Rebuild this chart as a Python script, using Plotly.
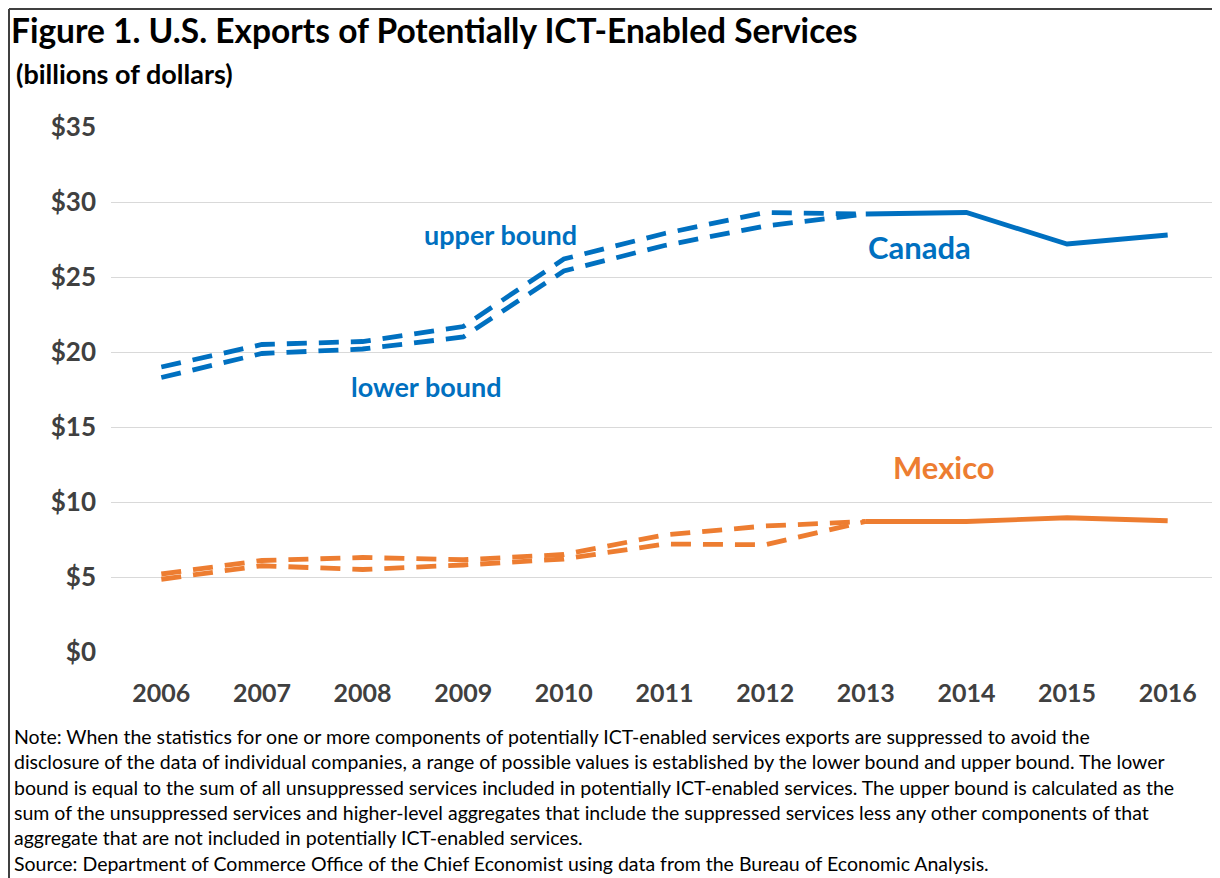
import plotly.graph_objects as go

years = ["2006", "2007", "2008", "2009", "2010", "2011", "2012", "2013", "2014", "2015", "2016"]
bound_years = years[:8]
solid_years = years[7:]

canada_upper = [19.0, 20.5, 20.7, 21.7, 26.2, 27.9, 29.3, 29.2]
canada_lower = [18.3, 19.9, 20.2, 21.0, 25.4, 27.1, 28.4, 29.2]
canada_solid = [29.2, 29.3, 27.2, 27.8]

mexico_upper = [5.2, 6.1, 6.3, 6.15, 6.5, 7.8, 8.4, 8.7]
mexico_lower = [4.85, 5.75, 5.5, 5.8, 6.2, 7.2, 7.15, 8.7]
mexico_solid = [8.7, 8.7, 8.95, 8.75]

y_ticks = [0, 5, 10, 15, 20, 25, 30, 35]

BLUE = "#0070C0"
ORANGE = "#ED7D31"
FONT = "Lato"

# page body has an 8px default margin; work in reference pixel coords and subtract it
OFF = 8
W, H = 1220 - OFF, 878 - OFF
ML, MR, MT, MB = 111 - OFF, 2, 127 - OFF, 878 - 652.5

fig = go.Figure()
dash = "20px,12px"
for ys, c in [(canada_upper, BLUE), (canada_lower, BLUE), (mexico_upper, ORANGE), (mexico_lower, ORANGE)]:
    fig.add_trace(go.Scatter(x=bound_years, y=ys, mode="lines",
                             line=dict(color=c, width=4.8, dash=dash), showlegend=False))
for ys, c in [(canada_solid, BLUE), (mexico_solid, ORANGE)]:
    fig.add_trace(go.Scatter(x=solid_years, y=ys, mode="lines",
                             line=dict(color=c, width=4.8), showlegend=False))

pw = W - ML - MR
ph = H - MT - MB
def px(x):
    return (x - OFF - ML) / pw
def py(y):
    return 1 - (y - OFF - MT) / ph

annotations = [
    dict(text="Figure 1. U.S. Exports of Potentially ICT-Enabled Services", x=px(9), y=py(30),
         xanchor="left", yanchor="middle", font=dict(size=33.5, color="#000000", family=FONT, weight="bold")),
    dict(text="(billions of dollars)", x=px(14), y=py(73),
         xanchor="left", yanchor="middle", font=dict(size=27, color="#000000", family=FONT, weight="bold")),
    dict(text="upper bound", x=px(501), y=py(235),
         xanchor="center", yanchor="middle", font=dict(size=27, color=BLUE, family=FONT, weight="bold")),
    dict(text="lower bound", x=px(426), y=py(387),
         xanchor="center", yanchor="middle", font=dict(size=27, color=BLUE, family=FONT, weight="bold")),
    dict(text="Canada", x=px(919), y=py(247),
         xanchor="center", yanchor="middle", font=dict(size=31, color=BLUE, family=FONT, weight="bold")),
    dict(text="Mexico", x=px(944), y=py(467),
         xanchor="center", yanchor="middle", font=dict(size=31, color=ORANGE, family=FONT, weight="bold")),
]

note_lines = [
    "Note: When the statistics for one or more components of potentially ICT-enabled services exports are suppressed to avoid the",
    "disclosure of the data of individual companies, a range of possible values is established by the lower bound and upper bound. The lower",
    "bound is equal to the sum of all unsuppressed services included in potentially ICT-enabled services. The upper bound is calculated as the",
    "sum of the unsuppressed services and higher-level aggregates that include the suppressed services less any other components of that",
    "aggregate that are not included in potentially ICT-enabled services.",
    "Source: Department of Commerce Office of the Chief Economist using data from the Bureau of Economic Analysis.",
]
for i, t in enumerate(note_lines):
    annotations.append(dict(text=t, x=px(12), y=py(737 + i * 25.4), xanchor="left", yanchor="middle",
                            font=dict(size=19.5, color="#000000", family=FONT)))
for a in annotations:
    a["xref"] = "paper"
    a["yref"] = "paper"
    a["showarrow"] = False

shapes = [
    dict(type="line", xref="paper", yref="paper", x0=px(9), x1=px(9), y0=py(9), y1=py(900),
         line=dict(color="#404040", width=2)),
    dict(type="line", xref="paper", yref="paper", x0=px(9), x1=px(1230), y0=py(9), y1=py(9),
         line=dict(color="#404040", width=2)),
]

fig.update_layout(
    width=W, height=H,
    margin=dict(l=ML, r=MR, t=MT, b=MB),
    paper_bgcolor="white", plot_bgcolor="white",
    font=dict(family=FONT),
    annotations=annotations,
    shapes=shapes,
    xaxis=dict(type="category", categoryorder="array", categoryarray=years, range=[-0.5, 10.5],
               showgrid=False, zeroline=False, showline=False, ticks="",
               tickfont=dict(size=25, color="#404040", family=FONT, weight="bold"),
               ticklabelstandoff=24),
    yaxis=dict(range=[0, 35], tickvals=y_ticks, ticktext=["$" + str(v) for v in y_ticks],
               showgrid=True, gridcolor="#D9D9D9", gridwidth=1.3, zeroline=False, showline=False,
               ticks="", tickfont=dict(size=26, color="#404040", family=FONT, weight="bold"),
               ticklabelstandoff=14),
)

fig.write_html("out.html")
